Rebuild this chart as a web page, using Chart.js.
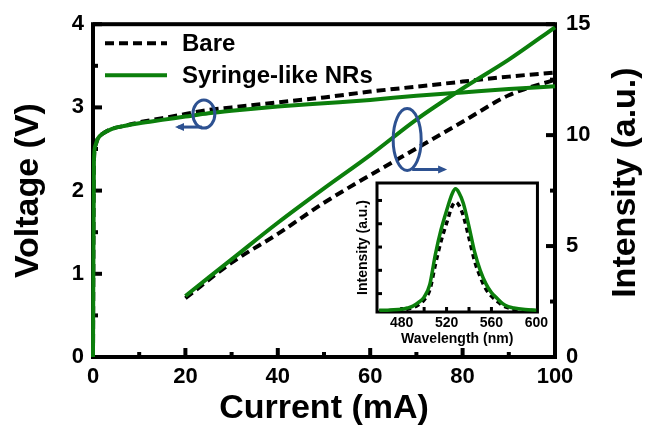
<!DOCTYPE html>
<html><head><meta charset="utf-8">
<script src="https://cdn.jsdelivr.net/npm/chart.js@4.4.0/dist/chart.umd.min.js"></script>
<style>
html,body{margin:0;padding:0;background:#fff;overflow:hidden;}
#wrap{position:relative;width:646px;height:426px;}
#main{position:absolute;left:0;top:0;}
#inset{position:absolute;left:345px;top:178px;}
</style></head><body>
<div id="wrap"><canvas id="main" width="646" height="426"></canvas><canvas id="inset" width="207" height="170"></canvas></div>
<script>
// ---------- data ----------
const seriesNames = ['Bare', 'Syringe-like NRs'];
// I-V (left axis)
const currentV    = [0, 0.2, 0.5, 1, 2, 4, 7, 10, 15, 20, 25, 30, 40, 50, 60, 70, 80, 90, 100];
const voltageBare = [0, 2.35, 2.54, 2.62, 2.68, 2.74, 2.78, 2.82, 2.87, 2.92, 2.97, 3.0, 3.06, 3.12, 3.19, 3.25, 3.31, 3.37, 3.42];
const voltageNR   = [0, 2.35, 2.54, 2.62, 2.68, 2.74, 2.78, 2.81, 2.85, 2.89, 2.93, 2.96, 3.01, 3.05, 3.09, 3.14, 3.18, 3.22, 3.255];
// L-I (right axis)
const currentL      = [20, 30, 40, 50, 60, 70, 80, 90, 100];
const intensityBare = [2.65, 4.25, 5.55, 6.95, 8.2, 9.4, 10.6, 11.8, 12.5];
const intensityNR   = [2.75, 4.4, 6.05, 7.6, 9.1, 10.7, 12.1, 13.4, 14.86];
// inset spectra
const wavelength   = [460, 470, 480, 485, 490, 495, 500, 505, 510, 515, 520, 525, 528, 531, 535, 540, 545, 550, 555, 560, 565, 570, 575, 580, 590, 600];
const spectrumBare = [0.26, 0.27, 0.30, 0.33, 0.39, 0.52, 0.73, 1.15, 2.24, 3.24, 4.02, 4.75, 4.93, 4.80, 4.33, 3.39, 2.40, 1.72, 1.20, 0.89, 0.68, 0.49, 0.39, 0.34, 0.29, 0.26];
const spectrumNR   = [0.28, 0.30, 0.33, 0.38, 0.46, 0.62, 0.85, 1.38, 2.68, 3.73, 4.56, 5.29, 5.50, 5.34, 4.87, 3.88, 2.79, 2.00, 1.43, 1.04, 0.80, 0.57, 0.44, 0.38, 0.32, 0.29];
// ticks
const xTicks = [0, 20, 40, 60, 80, 100];
const vTicks = [0, 1, 2, 3, 4];
const iTicks = [0, 5, 10, 15];
const wlTickLabels = [480, 520, 560, 600];

// ---------- styles ----------
const FONT = "'Liberation Sans', Arial, sans-serif";
const GREEN = '#0c7f0c';
const BLUE = '#2d5191';
const DASH = [9, 5];
const pts = (xs, ys) => xs.map((x, i) => ({x, y: ys[i]}));

function tick(ctx, x1, y1, x2, y2) { ctx.beginPath(); ctx.moveTo(x1, y1); ctx.lineTo(x2, y2); ctx.stroke(); }

const mainFrame = {
  id: 'mainFrame',
  beforeDatasetsDraw(chart) {
    const {ctx, chartArea: a, scales: {x, yV, yI}} = chart;
    ctx.save();
    ctx.strokeStyle = '#000';
    ctx.lineWidth = 4;
    ctx.strokeRect(a.left, a.top, a.right - a.left, a.bottom - a.top);
    for (let v = 0; v <= 100; v += 10) {
      const p = x.getPixelForValue(v), L = (v % 20 === 0) ? 9 : 5;
      tick(ctx, p, a.bottom, p, a.bottom - L);
    }
    for (let v = 0; v <= 4; v += 0.5) {
      const p = yV.getPixelForValue(v), L = (v % 1 === 0) ? 9 : 5;
      tick(ctx, a.left, p, a.left + L, p);
    }
    for (let v = 0; v <= 15; v += 2.5) {
      const p = yI.getPixelForValue(v), L = (v % 5 === 0) ? 9 : 5;
      tick(ctx, a.right, p, a.right - L, p);
    }
    ctx.restore();
  },
  afterDatasetsDraw(chart) {
    const {ctx, chartArea: a, scales: {x, yV, yI}} = chart;
    ctx.save();
    // annotation ellipses with arrows
    ctx.strokeStyle = BLUE; ctx.fillStyle = BLUE; ctx.lineWidth = 3;
    const marks = [
      {cx: x.getPixelForValue(24), cy: yV.getPixelForValue(2.92), rx: 11, ry: 14, to: x.getPixelForValue(18.4), dir: -1},
      {cx: x.getPixelForValue(68), cy: yI.getPixelForValue(9.8), rx: 14, ry: 31, to: x.getPixelForValue(76), dir: 1}
    ];
    marks.forEach(m => {
      ctx.beginPath(); ctx.ellipse(m.cx, m.cy, m.rx, m.ry, 0, 0, Math.PI * 2); ctx.stroke();
      const y0 = m.cy + m.ry - 1;
      const x0 = m.cx + (m.dir < 0 ? -2 : 5);
      ctx.beginPath(); ctx.moveTo(x0, y0); ctx.lineTo(m.to, y0); ctx.stroke();
      ctx.beginPath();
      ctx.moveTo(m.to + m.dir * 3, y0);
      ctx.lineTo(m.to - m.dir * 6, y0 - 4);
      ctx.lineTo(m.to - m.dir * 6, y0 + 4);
      ctx.closePath(); ctx.fill();
    });
    // legend
    const ds = chart.data.datasets;
    ctx.font = 'bold 24px ' + FONT;
    ctx.textBaseline = 'middle';
    [0, 1].forEach(i => {
      const y = a.top + 19 + i * 32;
      ctx.strokeStyle = ds[i].borderColor; ctx.lineWidth = 4;
      ctx.setLineDash(ds[i].borderDash || []);
      tick(ctx, a.left + 12, y, a.left + 74, y);
      ctx.setLineDash([]);
      ctx.fillStyle = '#000';
      ctx.fillText(seriesNames[i], a.left + 89, y + 1);
    });
    // right axis title (reads bottom to top)
    ctx.save();
    ctx.translate(626, (a.top + a.bottom) / 2 - 8);
    ctx.rotate(-Math.PI / 2);
    ctx.font = 'bold 34px ' + FONT;
    ctx.textAlign = 'center'; ctx.textBaseline = 'middle'; ctx.fillStyle = '#000';
    ctx.fillText('Intensity (a.u.)', 0, 0);
    ctx.restore();
    ctx.restore();
  }
};

const tickFont = {family: FONT, size: 22, weight: 'bold'};
const titleFont = {family: FONT, size: 34, weight: 'bold', lineHeight: 1};

new Chart(document.getElementById('main'), {
  type: 'line',
  data: {
    datasets: [
      {label: seriesNames[0], data: pts(currentV, voltageBare), yAxisID: 'yV', order: 1, borderColor: '#000', borderDash: DASH, borderWidth: 4, pointRadius: 0, cubicInterpolationMode: 'monotone', clip: 6},
      {label: seriesNames[1], data: pts(currentV, voltageNR), yAxisID: 'yV', order: 0, borderColor: GREEN, borderWidth: 4, pointRadius: 0, cubicInterpolationMode: 'monotone', clip: 6},
      {label: seriesNames[0] + ' L-I', data: pts(currentL, intensityBare), yAxisID: 'yI', order: 1, borderColor: '#000', borderDash: DASH, borderWidth: 4, pointRadius: 0, cubicInterpolationMode: 'monotone', clip: 6},
      {label: seriesNames[1] + ' L-I', data: pts(currentL, intensityNR), yAxisID: 'yI', order: 0, borderColor: GREEN, borderWidth: 4, pointRadius: 0, cubicInterpolationMode: 'monotone', clip: 6}
    ]
  },
  options: {
    responsive: false, animation: false, devicePixelRatio: 1,
    layout: {padding: {top: 24, left: 0, right: 0, bottom: 0}},
    plugins: {legend: {display: false}, tooltip: {enabled: false}},
    scales: {
      x: {
        type: 'linear', min: 0, max: 100,
        afterBuildTicks: s => { s.ticks = xTicks.map(v => ({value: v})); },
        afterFit: s => { s.height = 69; },
        grid: {display: false, drawTicks: false}, border: {display: false},
        ticks: {font: tickFont, color: '#000', padding: 7, maxRotation: 0, autoSkip: false},
        title: {display: true, text: 'Current (mA)', font: titleFont, color: '#000', padding: {top: 0, bottom: 0}}
      },
      yV: {
        type: 'linear', position: 'left', min: 0, max: 4,
        afterBuildTicks: s => { s.ticks = vTicks.map(v => ({value: v})); },
        afterFit: s => { s.width = 93; },
        grid: {display: false, drawTicks: false}, border: {display: false},
        ticks: {font: tickFont, color: '#000', padding: 9, autoSkip: false},
        title: {display: true, text: 'Voltage (V)', font: titleFont, color: '#000', padding: {top: 12, bottom: 0}}
      },
      yI: {
        type: 'linear', position: 'right', min: 0, max: 15,
        afterBuildTicks: s => { s.ticks = iTicks.map(v => ({value: v})); },
        afterFit: s => { s.width = 91; },
        grid: {display: false, drawTicks: false}, border: {display: false},
        ticks: {font: tickFont, color: '#000', padding: 11, autoSkip: false},
        title: {display: false}
      }
    }
  },
  plugins: [mainFrame]
});

// ---------- inset ----------
const insetFrame = {
  id: 'insetFrame',
  beforeDatasetsDraw(chart) {
    const {ctx, chartArea: a, scales: {x, y}} = chart;
    ctx.save();
    ctx.strokeStyle = '#000'; ctx.lineWidth = 3;
    ctx.strokeRect(a.left, a.top, a.right - a.left, a.bottom - a.top);
    for (let v = 480; v <= 580; v += 20) {
      const p = x.getPixelForValue(v);
      tick(ctx, p, a.bottom, p, a.bottom - 5);
    }
    for (let v = 1; v <= 5; v += 1) {
      const p = y.getPixelForValue(v);
      tick(ctx, a.left, p, a.left + 5, p);
    }
    ctx.restore();
  }
};
const smallFont = {family: FONT, size: 14, weight: 'bold', lineHeight: 1};
new Chart(document.getElementById('inset'), {
  type: 'line',
  data: {
    datasets: [
      {label: seriesNames[0], data: pts(wavelength, spectrumBare), order: 1, borderColor: '#000', borderDash: [5, 4], borderWidth: 3.5, pointRadius: 0, cubicInterpolationMode: 'monotone'},
      {label: seriesNames[1], data: pts(wavelength, spectrumNR), order: 0, borderColor: GREEN, borderWidth: 3.5, pointRadius: 0, cubicInterpolationMode: 'monotone'}
    ]
  },
  options: {
    responsive: false, animation: false, devicePixelRatio: 1,
    layout: {padding: {top: 5, right: 0, left: 0, bottom: 0}},
    plugins: {legend: {display: false}, tooltip: {enabled: false}},
    scales: {
      x: {
        type: 'linear', min: 458, max: 601,
        afterBuildTicks: s => { s.ticks = wlTickLabels.map(v => ({value: v})); },
        afterFit: s => { s.height = 36; },
        grid: {display: false, drawTicks: false}, border: {display: false},
        ticks: {font: smallFont, color: '#000', padding: 4, maxRotation: 0, autoSkip: false},
        title: {display: true, text: 'Wavelength (nm)', font: smallFont, color: '#000', padding: {top: 0, bottom: 2}}
      },
      y: {
        type: 'linear', min: 0.21, max: 5.75,
        afterFit: s => { s.width = 32; },
        grid: {display: false, drawTicks: false}, border: {display: false},
        ticks: {display: false},
        title: {display: true, text: 'Intensity (a.u.)', font: smallFont, color: '#000', padding: {top: 11, bottom: 0}}
      }
    }
  },
  plugins: [insetFrame]
});
</script>
</body></html>
